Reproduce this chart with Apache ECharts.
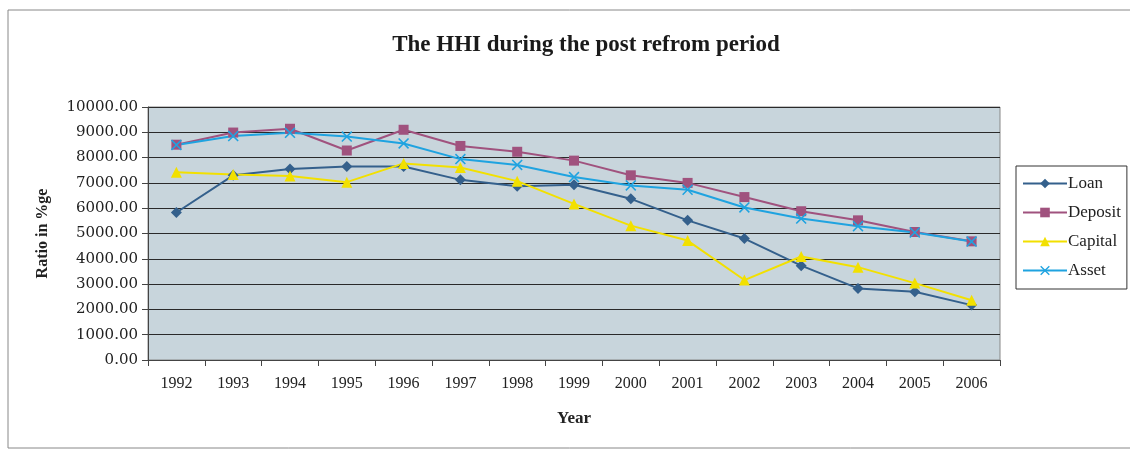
<!DOCTYPE html>
<html>
<head>
<meta charset="utf-8">
<script src="https://cdn.jsdelivr.net/npm/echarts@6/dist/echarts.min.js"></script>
<style>
  html, body { margin: 0; padding: 0; background: #fff; }
  #main { width: 1130px; height: 451px; }
</style>
</head>
<body>
<div id="main"></div>
<script>
const years = ['1992', '1993', '1994', '1995', '1996', '1997', '1998', '1999',
  '2000', '2001', '2002', '2003', '2004', '2005', '2006'];

const loan = [5830, 7300, 7550, 7650, 7650, 7120, 6870, 6930, 6370, 5520, 4800, 3730, 2830, 2700, 2170];
const deposit = [8510, 8990, 9140, 8280, 9100, 8460, 8230, 7880, 7300, 7000, 6440, 5880, 5520, 5060, 4690];
const capital = [7420, 7330, 7270, 7030, 7770, 7610, 7070, 6170, 5310, 4720, 3160, 4090, 3670, 3040, 2360];
const asset = [8500, 8850, 8980, 8830, 8560, 7940, 7710, 7230, 6900, 6730, 6030, 5590, 5290, 5040, 4680];

const serif = '"Liberation Serif", "DejaVu Serif", serif';
const wideSerif = '"DejaVu Serif", "Liberation Serif", serif';
const xMark = 'path://M0,1 L1,0 L5,4 L9,0 L10,1 L6,5 L10,9 L9,10 L5,6 L1,10 L0,9 L4,5 Z';

function makeSeries(name, data, color, symbol, size) {
  return {
    name: name,
    type: 'line',
    data: data,
    symbol: symbol,
    symbolSize: size,
    showAllSymbol: true,
    lineStyle: { color: color, width: 2 },
    itemStyle: { color: color },
    emphasis: { disabled: true }
  };
}

const chart = echarts.init(document.getElementById('main'));

chart.setOption({
  animation: false,
  title: {
    text: 'The HHI during the post refrom period',
    left: 581,
    textAlign: 'center',
    top: 29,
    textStyle: { fontFamily: serif, fontSize: 23, fontWeight: 'bold', color: '#1a1a1a' }
  },
  graphic: [{
    type: 'rect',
    shape: { x: 8, y: 10, width: 1125, height: 438 },
    style: { fill: 'none', stroke: '#888', lineWidth: 1 },
    silent: true
  }],
  legend: {
    orient: 'vertical',
    left: 1016,
    top: 166,
    padding: [9, 6, 10, 6],
    itemGap: 12,
    itemWidth: 44,
    itemHeight: 12,
    backgroundColor: '#fff',
    borderColor: '#333',
    borderWidth: 1,
    textStyle: { fontFamily: serif, fontSize: 17, color: '#222', padding: [0, 0, 0, -4] },
    data: ['Loan', 'Deposit', 'Capital', 'Asset']
  },
  grid: {
    left: 148,
    right: 130,
    top: 107,
    bottom: 91,
    show: true,
    backgroundColor: '#c8d5dc',
    borderColor: '#888',
    borderWidth: 1
  },
  xAxis: {
    type: 'category',
    data: years,
    boundaryGap: true,
    name: 'Year',
    nameLocation: 'middle',
    nameGap: 50,
    nameTextStyle: { fontFamily: serif, fontSize: 17, fontWeight: 'bold', color: '#222' },
    axisLine: { lineStyle: { color: '#444' } },
    axisTick: { show: true, interval: 0, length: 6, lineStyle: { color: '#444' } },
    axisLabel: { interval: 0, margin: 16, fontFamily: serif, fontSize: 16, color: '#222' }
  },
  yAxis: {
    type: 'value',
    min: 0,
    max: 10000,
    interval: 1000,
    name: 'Ratio in %ge',
    nameLocation: 'middle',
    nameGap: 97,
    nameTextStyle: { fontFamily: serif, fontSize: 16, fontWeight: 'bold', color: '#222' },
    axisLine: { show: true, lineStyle: { color: '#444' } },
    axisTick: { show: true, length: 6, lineStyle: { color: '#444' } },
    axisLabel: {
      margin: 10,
      fontFamily: wideSerif,
      fontSize: 15,
      color: '#222',
      formatter: v => v.toFixed(2)
    },
    splitLine: { lineStyle: { color: '#2a2a2a', width: 1 } }
  },
  series: [
    makeSeries('Loan', loan, '#34608c', 'diamond', 11),
    makeSeries('Deposit', deposit, '#a0527e', 'rect', 10),
    makeSeries('Capital', capital, '#f2e000', 'triangle', 11),
    makeSeries('Asset', asset, '#1fa3e0', xMark, 11)
  ]
});
</script>
</body>
</html>
